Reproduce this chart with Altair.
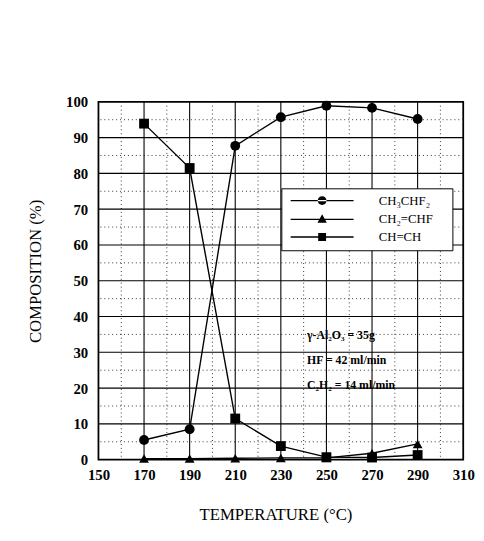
import altair as alt
import pandas as pd

# ---- data ----
temps = [170, 190, 210, 230, 250, 270, 290]
series_names = ["CH₃CHF₂", "CH₂=CHF", "CH=CH"]
ch3chf2 = [5.5, 8.5, 87.7, 95.7, 98.9, 98.3, 95.2]
ch2chf = [0.3, 0.3, 0.4, 0.5, 0.5, 1.8, 4.4]
chch = [93.9, 81.5, 11.5, 3.8, 0.7, 0.6, 1.3]

x_ticks = [150, 170, 190, 210, 230, 250, 270, 290, 310]
y_ticks = [0, 10, 20, 30, 40, 50, 60, 70, 80, 90, 100]
x_major = [170, 190, 210, 230, 250, 270, 290]
x_minor = [160, 180, 200, 220, 240, 260, 280, 300]
y_major = [10, 20, 30, 40, 50, 60, 70, 80, 90]
y_minor = [5, 15, 25, 35, 45, 55, 65, 75, 85, 95]

notes = ["γ-Al₂O₃ = 35g", "HF = 42 ml/min", "C₂H₂ = 14 ml/min"]

rows = []
for name, vals in zip(series_names, [ch3chf2, ch2chf, chch]):
    for t, v in zip(temps, vals):
        rows.append({"T": t, "value": v, "series": name})
df = pd.DataFrame(rows)

FONT = "Liberation Serif"
xscale = alt.Scale(domain=[150, 310], nice=False, zero=False)
yscale = alt.Scale(domain=[0, 100], nice=False)

x_axis = alt.Axis(values=x_ticks, title="TEMPERATURE (°C)", labelPadding=8,
                  labelFlush=False, labelOverlap=False,
                  titleX=180, titleY=56, titleBaseline="middle", titleAlign="center")
y_axis = alt.Axis(values=y_ticks, title="COMPOSITION (%)", labelPadding=11,
                  labelFlush=False, labelOverlap=False,
                  titleX=-64, titleY=172, titleBaseline="middle", titleAlign="center",
                  titleAngle=-90)


def xenc(field):
    return alt.X(field, scale=xscale, axis=x_axis)


def yenc(field):
    return alt.Y(field, scale=yscale, axis=y_axis)


vminor = alt.Chart(pd.DataFrame({"v": x_minor})).mark_rule(
    color="#333", strokeWidth=1, strokeDash=[1, 3]).encode(x=xenc("v:Q"))
hminor = alt.Chart(pd.DataFrame({"v": y_minor})).mark_rule(
    color="#333", strokeWidth=1, strokeDash=[1, 3]).encode(y=yenc("v:Q"))
vmajor = alt.Chart(pd.DataFrame({"v": x_major})).mark_rule(
    color="black", strokeWidth=1.1).encode(x=xenc("v:Q"))
hmajor = alt.Chart(pd.DataFrame({"v": y_major})).mark_rule(
    color="black", strokeWidth=1.1).encode(y=yenc("v:Q"))

base = alt.Chart(df)
lines = base.mark_line(color="black", strokeWidth=1.4).encode(
    x=xenc("T:Q"), y=yenc("value:Q"), detail="series:N")
points = base.mark_point(filled=True, fill="black", color="black", opacity=1, size=100).encode(
    x=xenc("T:Q"), y=yenc("value:Q"),
    shape=alt.Shape("series:N",
                    scale=alt.Scale(domain=series_names, range=["circle", "triangle-up", "square"]),
                    legend=None))

# legend glyphs: a thin filled bar (the line) plus the marker
bar = "M-6.4,-0.13H6.4V0.13H-6.4Z"
legend_paths = [
    bar + "M-0.9,0A0.9 0.9 0 1 0 0.9,0A0.9 0.9 0 1 0 -0.9,0Z",
    bar + "M0,-1L0.95,0.7L-0.95,0.7Z",
    bar + "M-0.8,-0.8H0.8V0.8H-0.8Z",
]
legend_layer = base.transform_filter("datum.T < 0").mark_point(
    filled=True, fill="black", stroke="black", strokeWidth=1, opacity=1, size=100).encode(
    x=xenc("T:Q"), y=yenc("value:Q"),
    shape=alt.Shape("series:N",
                    scale=alt.Scale(domain=series_names, range=legend_paths),
                    legend=alt.Legend(title=".", titleOrient="right", titleOpacity=0,
                                      titleFontSize=13, titlePadding=10,
                                      orient="none", legendX=186, legendY=88,
                                      padding=6, symbolOffset=29, labelOffset=51,
                                      rowPadding=4, strokeColor="black", fillColor="white",
                                      symbolFillColor="black", symbolStrokeColor="black",
                                      symbolStrokeWidth=1, symbolOpacity=1,
                                      labelFont=FONT, labelFontSize=13, labelColor="black")))

note_layers = []
for label, ty in zip(notes, [34.8, 27.7, 20.8]):
    note_layers.append(
        alt.Chart(pd.DataFrame({"t": [label]})).mark_text(
            font=FONT, fontSize=12, fontWeight="bold", align="left", baseline="middle",
            color="black").encode(x=alt.X(datum=241.5, scale=xscale, axis=x_axis),
                                  y=alt.Y(datum=ty, scale=yscale, axis=y_axis), text="t:N"))

chart = alt.layer(vminor, hminor, vmajor, hmajor, lines, points, *note_layers, legend_layer).resolve_scale(
    shape="independent"
).properties(
    width=371, height=364,
    autosize=alt.AutoSizeParams(type="none"),
    padding={"left": 92, "top": 91, "right": 13, "bottom": 60},
).configure_view(stroke="black", strokeWidth=1.8).configure_axis(
    labelFont=FONT, labelFontSize=15, labelFontWeight="bold", labelColor="black",
    ticks=False, domain=False, grid=False,
    titleFont=FONT, titleFontSize=17, titleFontWeight="normal", titleColor="black",
)

chart.save("out.html", embed_options={"renderer": "svg", "actions": False})
